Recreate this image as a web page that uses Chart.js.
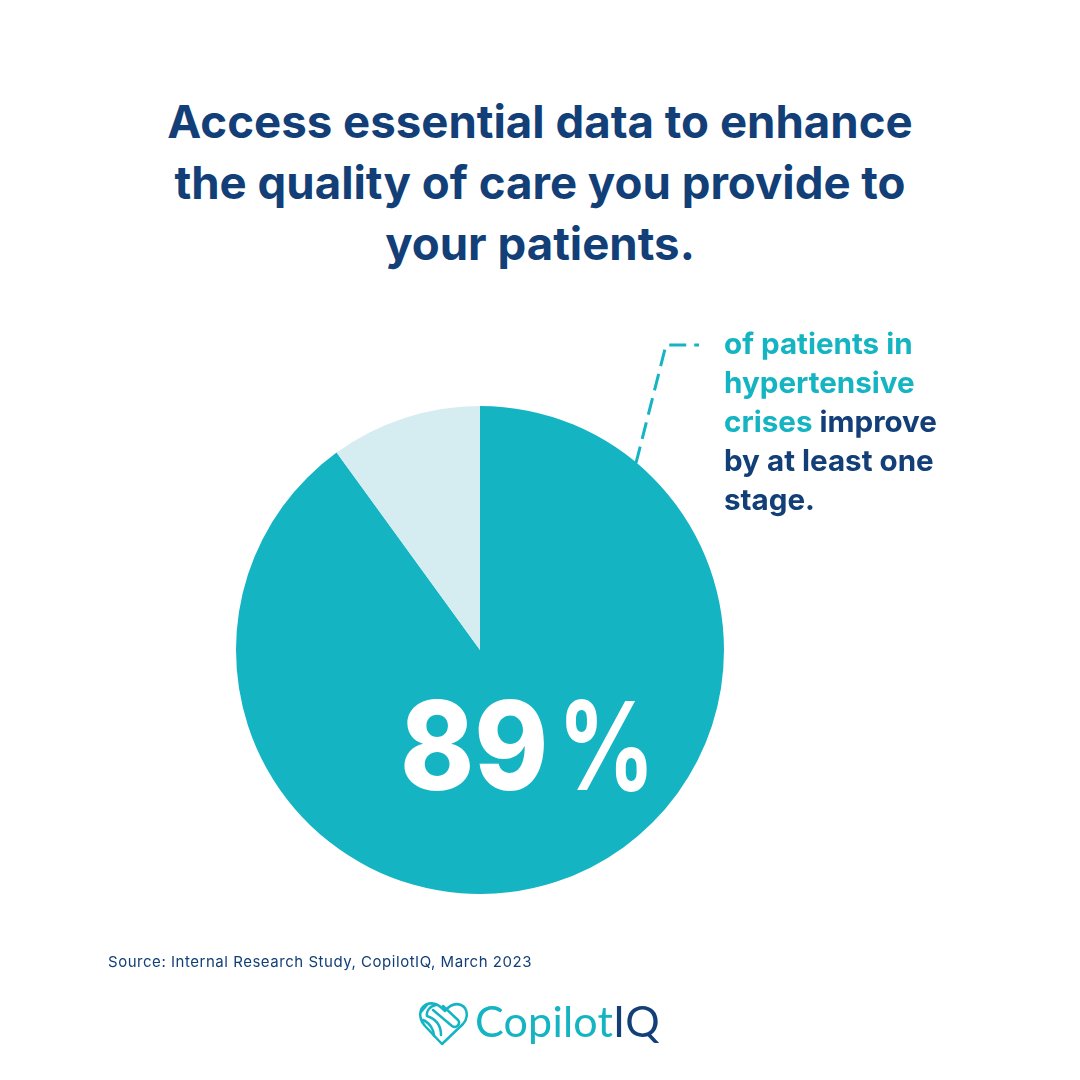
<!DOCTYPE html>
<html lang="en">
<head>
    <meta charset="UTF-8">
    <title>Access essential data</title>
    <style>
        html, body { margin: 0; padding: 0; background: #fff; }
        body { position: relative; width: 1080px; height: 1080px; overflow: hidden; font-family: 'Inter', sans-serif; color: #123f77; }
        .abs { position: absolute; white-space: nowrap; }
        #title { left: 0; width: 1080px; top: 91px; text-align: center; font-size: 45.6px; font-weight: 700; line-height: 61px; }
        #title div { width: 1080px; }
        #pieBox { position: absolute; left: 236px; top: 406px; width: 488px; height: 488px; }
        #note { left: 724px; top: 323.5px; font-size: 29.6px; font-weight: 700; line-height: 39px; }
        #note span { color: #14b4c3; }
        #big { left: 400px; top: 670px; font-size: 123px; font-weight: 800; line-height: 152px; color: #fff; transform: scaleX(0.91); transform-origin: left center; }
        #big i { display: inline-block; font-style: normal; font-weight: 700; transform: scaleX(0.86); transform-origin: left center; margin-left: 10px; }
        #source { left: 108px; top: 952px; font-size: 15px; line-height: 20px; letter-spacing: 0.53px; }
        #leader, #heart { position: absolute; left: 0; top: 0; }
        #logo { left: 475px; top: 993px; font-family: 'Lato', sans-serif; font-weight: 400; font-size: 43px; line-height: 56px; color: #14b4c3; letter-spacing: 0.2px; }
        #logo span { color: #123f77; }
    </style>
    <script src="https://cdn.jsdelivr.net/npm/chart.js"></script>
</head>
<body>
    <div class="abs" id="title">
        <div>Access essential data to enhance</div>
        <div>the quality of care you provide to</div>
        <div>your patients.</div>
    </div>

    <div id="pieBox"><canvas id="pie" width="488" height="488"></canvas></div>

    <svg id="leader" width="1080" height="1080">
        <polyline points="636,463 666,345 699,345" fill="none" stroke="#14b4c3" stroke-width="3" stroke-dasharray="17 8"/>
    </svg>

    <div class="abs" id="note"><span>of patients in</span><br><span>hypertensive</span><br><span>crises</span> improve<br>by at least one<br>stage.</div>
    <div class="abs" id="big">89<i>%</i></div>
    <div class="abs" id="source">Source: Internal Research Study, CopilotIQ, March 2023</div>

    <svg id="heart" width="1080" height="1080" fill="none" stroke="#14b4c3" stroke-width="2.5" stroke-linejoin="round" stroke-linecap="round">
        <path d="M442 1044 L425 1026 C418 1018 419 1008 426 1004.5 C432 1002 438 1004 443 1009 L445 1011 C450 1005 456 1003 461 1005 C468 1008 468.500 1018 463 1024 L442 1044"/>
        <path d="M427 1005 L421 1012 M436 1005 C430 1006 426 1011 427 1016 C436 1019 441 1026 441 1035"/>
        <path d="M433 1010 L452 1026 C456 1029 461 1024 458 1020 L443 1006"/>
        <path d="M423 1020 C430 1023 434 1030 434 1036"/>
    </svg>
    <div class="abs" id="logo">Copilot<span>IQ</span></div>

    <script>
        const sliceLabels = ['Improved', 'Other'];
        const sliceShares = [90, 10];
        const sliceColors = ['#14b4c3', '#d5ecf0'];

        new Chart(document.getElementById('pie'), {
            type: 'pie',
            data: {
                labels: sliceLabels,
                datasets: [{ data: sliceShares, backgroundColor: sliceColors, borderWidth: 0, hoverOffset: 0 }]
            },
            options: {
                responsive: false,
                animation: false,
                layout: { padding: 0 },
                plugins: { legend: { display: false }, tooltip: { enabled: false } }
            }
        });
    </script>
</body>
</html>
